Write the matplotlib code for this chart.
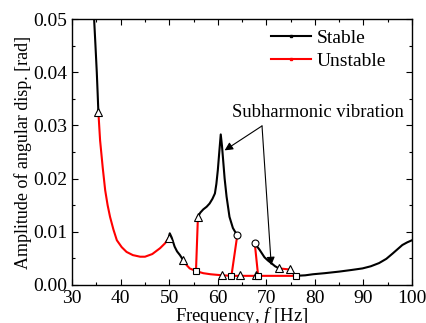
import matplotlib
matplotlib.use("Agg")
import matplotlib.pyplot as plt
from matplotlib.lines import Line2D
from matplotlib.ticker import MultipleLocator

plt.rcParams["font.family"] = ["Liberation Serif", "DejaVu Serif"]
plt.rcParams["mathtext.fontset"] = "custom"
plt.rcParams["mathtext.rm"] = "Liberation Serif"
plt.rcParams["mathtext.it"] = "Liberation Serif:italic"
plt.rcParams["font.size"] = 14

# Stable branches (black)
stable_f = [
    [34.4, 34.52, 34.8, 35.07, 35.25, 35.4],
    [49.9, 50.1, 50.5, 51.1, 51.6, 52.2, 52.9],
    [55.9, 56.4, 57.0, 57.7, 58.3, 58.9, 59.4, 59.7, 60.0, 60.3, 60.6,
     60.85, 61.1, 61.4, 61.8, 62.4, 63.1, 64.0],
    [67.6, 68.1, 68.6, 69.6, 70.3, 71.0, 71.8, 72.6],
    [74.8, 76.0],
    [76.0, 78.0, 79.6, 82.0, 85.0, 87.5, 89.8, 91.5, 93.2, 94.7, 96.0,
     97.0, 98.0, 99.0, 100.0],
]
stable_a = [
    [0.052, 0.050, 0.045, 0.040, 0.036, 0.0325],
    [0.0088, 0.0097, 0.0089, 0.0072, 0.0063, 0.0056, 0.0046],
    [0.0128, 0.0136, 0.0142, 0.0147, 0.0153, 0.0162, 0.0172, 0.0190,
     0.0216, 0.0250, 0.0283, 0.0262, 0.0234, 0.0200, 0.0166, 0.0128,
     0.0107, 0.0093],
    [0.0079, 0.0072, 0.0066, 0.0052, 0.0046, 0.0041, 0.0035, 0.0031],
    [0.0029, 0.0017],
    [0.0017, 0.0018, 0.0020, 0.0022, 0.0025, 0.0028, 0.0031, 0.0035,
     0.0041, 0.0049, 0.0059, 0.0067, 0.0075, 0.0080, 0.0084],
]

# Unstable branches (red)
unstable_f = [
    [35.4, 35.75, 36.3, 36.8, 37.3, 37.8, 38.5, 39.2, 40.2, 41.2, 42.5,
     44.0, 45.0, 46.5, 48.1, 49.1, 49.9],
    [52.9, 53.5, 54.2, 55.5],
    [55.5, 55.9],
    [55.5, 57.0, 58.5, 59.7, 61.0, 62.8, 65.0, 68.3, 72.0, 76.0],
    [64.0, 62.8],
    [67.6, 68.3],
    [72.6, 74.8],
]
unstable_a = [
    [0.0325, 0.0272, 0.0220, 0.0178, 0.0150, 0.0128, 0.0104, 0.0084,
     0.0071, 0.0062, 0.0056, 0.0053, 0.0053, 0.0058, 0.0069, 0.0078, 0.0088],
    [0.0046, 0.0038, 0.0031, 0.0026],
    [0.0026, 0.0128],
    [0.0026, 0.0022, 0.0020, 0.0019, 0.0018, 0.0017, 0.0017, 0.0017,
     0.0017, 0.0017],
    [0.0093, 0.0017],
    [0.0079, 0.0017],
    [0.0031, 0.0029],
]

# Bifurcation markers
tri_f = [35.4, 49.9, 52.9, 55.9, 60.9, 64.5, 67.8, 72.6, 74.8]
tri_a = [0.0325, 0.0088, 0.0046, 0.0128, 0.0018, 0.0018, 0.0018, 0.0031, 0.0029]
circ_f = [64.0, 67.6]
circ_a = [0.0093, 0.0079]
sq_f = [55.5, 62.8, 68.3, 76.0]
sq_a = [0.0026, 0.0017, 0.0017, 0.0017]

fig = plt.figure(figsize=(4.27, 3.23), dpi=100)
ax = fig.add_axes([0.169, 0.118, 0.796, 0.823])

for f, a in zip(unstable_f, unstable_a):
    ax.plot(f, a, color="#ff0000", lw=1.5, zorder=2)
for f, a in zip(stable_f, stable_a):
    ax.plot(f, a, color="black", lw=1.5, zorder=3)

mk = dict(ls="none", mfc="white", mec="black", mew=0.8, zorder=5)
ax.plot(tri_f, tri_a, marker="^", ms=5.5, **mk)
ax.plot(circ_f, circ_a, marker="o", ms=5, **mk)
ax.plot(sq_f, sq_a, marker="s", ms=4.5, **mk)

# Annotation
ax.text(62.85, 0.0316, "Subharmonic vibration", ha="left", va="baseline",
        fontsize=13.4)
arrow = dict(arrowstyle="-|>", color="black", lw=0.8, mutation_scale=12,
             shrinkA=0, shrinkB=0)
ax.annotate("", xy=(61.4, 0.0253), xytext=(69.1, 0.0299), arrowprops=arrow)
ax.annotate("", xy=(71.0, 0.0037), xytext=(69.1, 0.0299), arrowprops=arrow)

ax.set_xlim(30, 100)
ax.set_ylim(0, 0.05)
ax.xaxis.set_major_locator(MultipleLocator(10))
ax.xaxis.set_minor_locator(MultipleLocator(5))
ax.yaxis.set_major_locator(MultipleLocator(0.01))
ax.yaxis.set_minor_locator(MultipleLocator(0.005))
ax.yaxis.set_major_formatter(plt.FormatStrFormatter("%.2f"))
ax.tick_params(which="both", direction="in", top=True, right=True, width=0.8)
ax.tick_params(which="major", length=4.5, labelsize=14)
ax.tick_params(which="minor", length=2.5)
for s in ax.spines.values():
    s.set_linewidth(1.0)

ax.set_xlabel("Frequency, $f$ [Hz]", fontsize=13.5, labelpad=-1)
ax.set_ylabel("Amplitude of angular disp. [rad]", fontsize=13, labelpad=1)

handles = [Line2D([], [], color="black", lw=1.5, marker="s", ms=2),
           Line2D([], [], color="#ff0000", lw=1.5, marker="s", ms=2)]
ax.legend(handles, ["Stable", "Unstable"], loc="upper left", frameon=False,
          fontsize=14, handlelength=2.1, handletextpad=0.26, labelspacing=0.3,
          borderpad=0, borderaxespad=0, bbox_to_anchor=(0.584, 0.962))

fig.savefig("out.png", dpi=100)
